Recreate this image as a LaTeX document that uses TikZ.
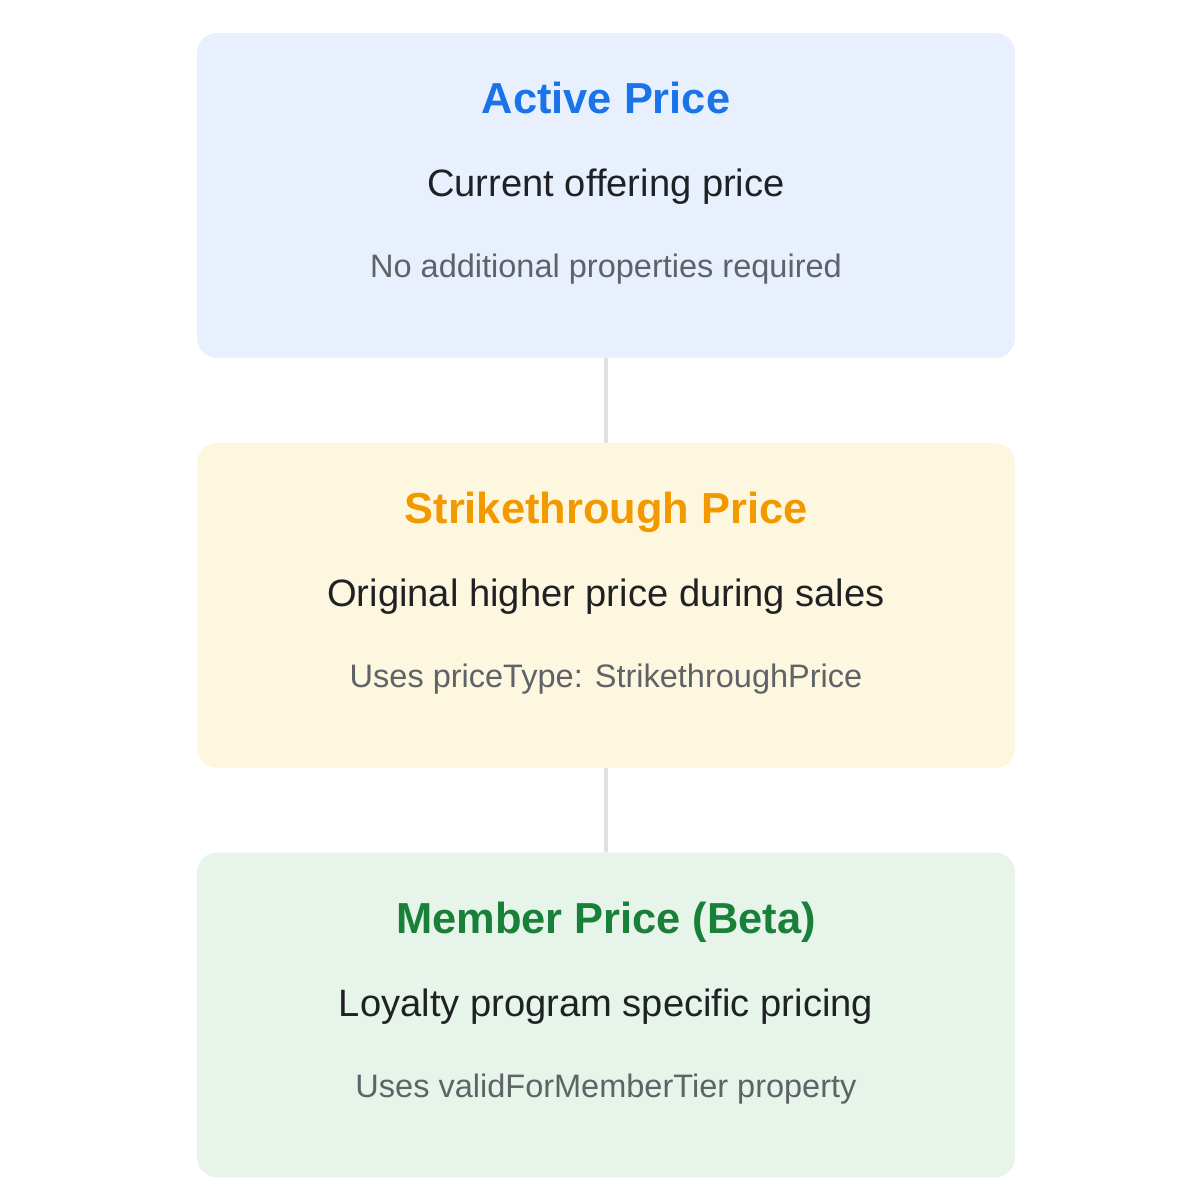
\documentclass[tikz,border=0pt]{standalone}
\usepackage{fontspec}
\setmainfont{Liberation Sans}
\usetikzlibrary{positioning}
\definecolor{kekhatter}{HTML}{E8F0FE}
\definecolor{kekcim}{HTML}{1A73E8}
\definecolor{sargahatter}{HTML}{FEF7E0}
\definecolor{sargacim}{HTML}{F29900}
\definecolor{zoldhatter}{HTML}{E6F4EA}
\definecolor{zoldcim}{HTML}{188038}
\definecolor{szoveg}{HTML}{202124}
\definecolor{szurke}{HTML}{5F6368}
\definecolor{vonal}{HTML}{E0E0E0}
\tikzset{
  kartya/.style={rectangle, rounded corners=0.4cm, minimum width=16.36cm, minimum height=6.5cm, inner sep=0},
  cim/.style={anchor=base, inner sep=0, font=\fontsize{24.7}{28}\selectfont\bfseries},
  leiras/.style={anchor=base, inner sep=0, text=szoveg, font=\fontsize{21.7}{26}\selectfont},
  megjegyzes/.style={anchor=base, inner sep=0, text=szurke, font=\fontsize{18.5}{22}\selectfont},
  osszekoto/.style={draw=vonal, line width=0.09cm}
}
% name, y, fill, title colour, title, description, note
\newcommand{\arkartya}[7]{
\node[kartya, fill=#3] (#1) at (12.12,#2){};
\node[cim, text=#4] (#1-cim) at ([yshift=-1.62cm]#1.north){#5};
\node[leiras] (#1-leiras) at ([yshift=-3.28cm]#1.north){#6};
\node[megjegyzes] (#1-megj) at ([yshift=-4.9cm]#1.north){#7};
}

\begin{document}
\begin{tikzpicture}
\useasboundingbox (0,0) rectangle (24,24);

\arkartya{aktiv}{20.09}{kekhatter}{kekcim}{Active Price}{Current offering price}{No additional properties required}
\arkartya{athuzott}{11.89}{sargahatter}{sargacim}{Strikethrough Price}{Original higher price during sales}{Uses priceType: StrikethroughPrice}
\arkartya{tag}{3.70}{zoldhatter}{zoldcim}{Member Price (Beta)}{Loyalty program specific pricing}{Uses validForMemberTier property}

\draw[osszekoto] (aktiv) -- (athuzott);
\draw[osszekoto] (athuzott) -- (tag);

\end{tikzpicture}
\end{document}
